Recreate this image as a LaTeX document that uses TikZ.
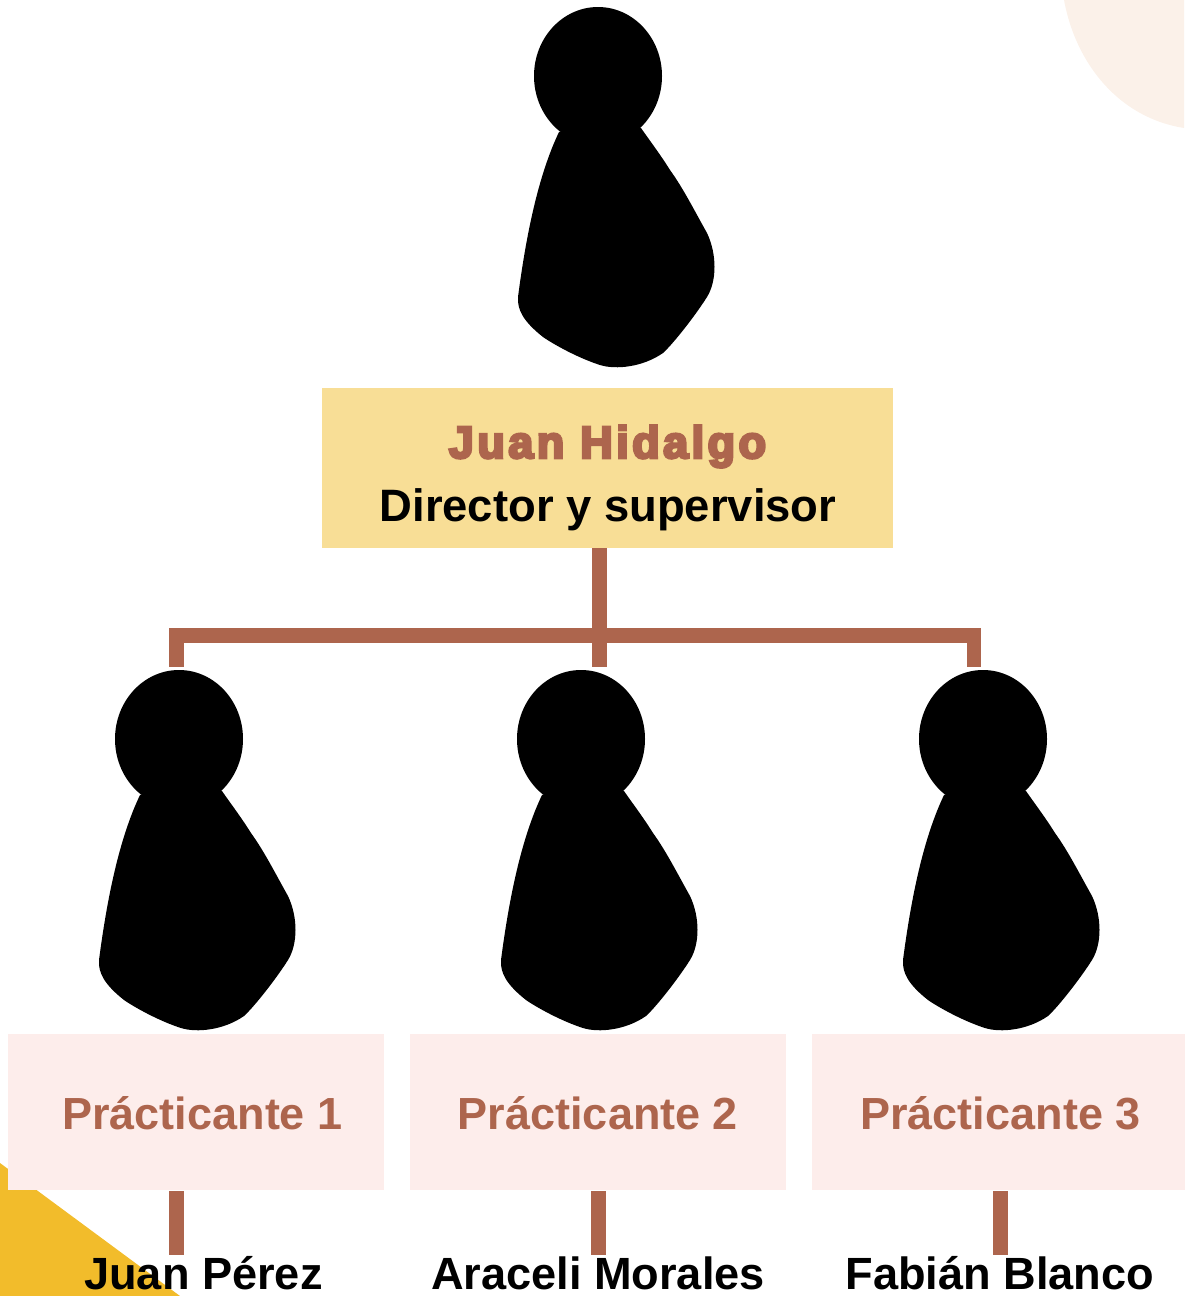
\documentclass[tikz,border=0pt]{standalone}
\usepackage{fontspec}
\setmainfont{Liberation Sans}
\newfontfamily\heavyfont{Liberation Sans Bold}[LetterSpace=7.7,FakeBold=6]
\definecolor{brownish}{HTML}{AD654D}
\definecolor{goldbox}{HTML}{F8DE96}
\definecolor{pinkbox}{HTML}{FDEDEB}
\definecolor{cornerpeach}{HTML}{FBF1E9}
\definecolor{cornergold}{HTML}{F2BC2B}
\tikzset{
  figure/.pic={
    \fill[black] (0,0) ellipse [x radius=64, y radius=69];
    \fill[black] (-39,56) .. controls (-60,100) and (-72,160) .. (-80,221)
      .. controls (-81,234) and (-74,246) .. (-55,261)
      .. controls (-45,268) and (-20,282) .. (2,289)
      .. controls (18,294) and (45,291) .. (65,277)
      .. controls (75,268) and (97,240) .. (109,221)
      .. controls (119,205) and (119,178) .. (109,157)
      .. controls (95,132) and (85,112) .. (72,94)
      .. controls (62,78) and (52,65) .. (43,52) -- cycle;
  },
  bar/.style={fill=brownish, draw=none},
  mainbox/.style={fill=goldbox, draw=none, minimum width=571, minimum height=160, inner sep=0, outer sep=0},
  internbox/.style={fill=pinkbox, draw=none, minimum width=376, minimum height=156, inner sep=0, outer sep=0},
  rolelabel/.style={text=brownish, font=\bfseries\fontsize{45}{50}\selectfont, inner sep=0},
  namelabel/.style={text=black, font=\bfseries\fontsize{45.15}{50}\selectfont, inner sep=0, anchor=base},
}
\begin{document}
\begin{tikzpicture}[x=1pt,y=-1pt]
\useasboundingbox (0,0) rectangle (1184,1296);
\fill[cornerpeach] (1064,0) .. controls (1076,65) and (1120,118) .. (1184,128) -- (1184,0) -- cycle;
\fill[cornergold] (0,1163) -- (180,1296) -- (0,1296) -- cycle;
\pic at (598,76) {figure};
\pic at (179,739) {figure};
\pic at (581,739) {figure};
\pic at (983,739) {figure};
\node[mainbox] (boss) at (607.5,468) {};
\node[internbox] (p1) at (196,1112) {};
\node[internbox] (p2) at (598,1112) {};
\node[internbox] (p3) at (1000,1112) {};
\node[text=brownish, font={\heavyfont\fontsize{45}{50}\selectfont}, inner sep=0, anchor=base] (bossname) at (607.5,458) {Juan Hidalgo};
\node[namelabel, font=\bfseries\fontsize{45.4}{50}\selectfont] (bossrole) at (608,521) {Director y supervisor};
\node[rolelabel, anchor=base] (t1) at (202.5,1129) {Prácticante 1};
\node[rolelabel, anchor=base] (t2) at (598,1129) {Prácticante 2};
\node[rolelabel, anchor=base] (t3) at (1000.5,1129) {Prácticante 3};
\fill[bar] (592,548) rectangle (607,667);
\fill[bar] (169,628) rectangle (981,643);
\fill[bar] (169,628) rectangle (184,667);
\fill[bar] (967,628) rectangle (981,667);
\fill[bar] (169,1191) rectangle (184,1255);
\fill[bar] (590.5,1191) rectangle (605.5,1255);
\fill[bar] (993,1191) rectangle (1008,1255);
\node[namelabel] (n1) at (203.5,1289) {Juan Pérez};
\node[namelabel] (n2) at (598,1289) {Araceli Morales};
\node[namelabel] (n3) at (1000,1289) {Fabián Blanco};
\end{tikzpicture}
\end{document}
